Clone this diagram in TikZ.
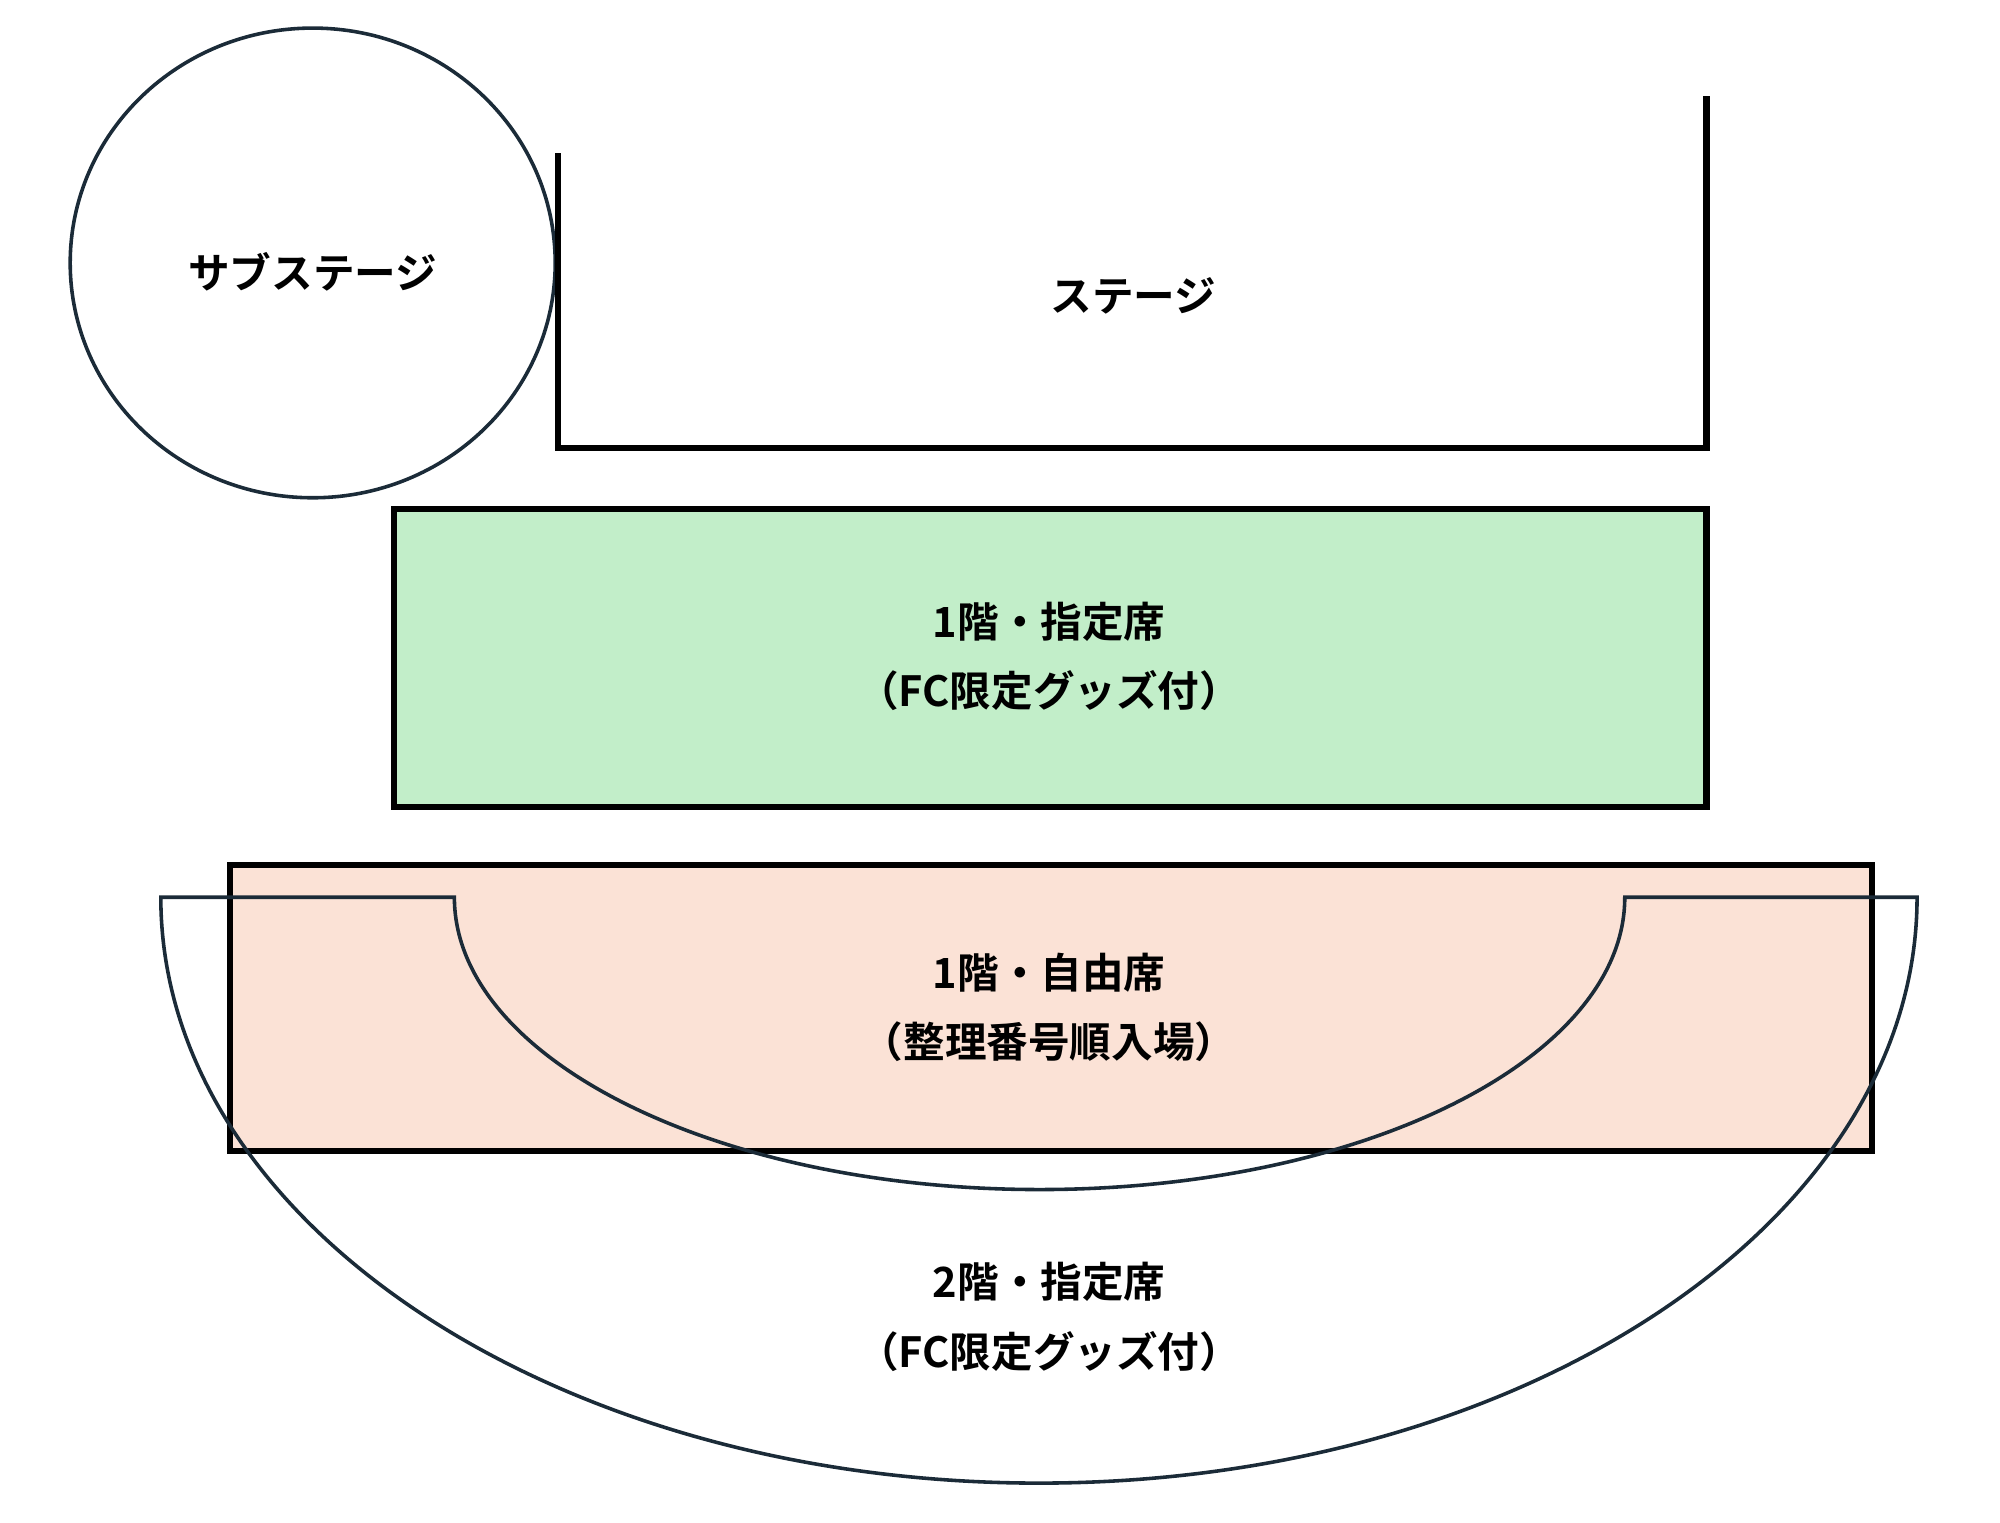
\documentclass[tikz,border=0pt]{standalone}
\usepackage{fontspec}
\newfontfamily\cjk{Noto Sans CJK JP Bold}
\definecolor{navy}{HTML}{1B2B38}
\definecolor{greenf}{HTML}{C2EEC9}
\definecolor{peach}{HTML}{FBE2D6}
\begin{document}
\begin{tikzpicture}[x=0.5pt,y=-0.5pt,
  lbl/.style={font=\cjk\fontsize{16.3}{19}\selectfont,inner sep=0pt},
  thinl/.style={draw=navy,line width=1.4pt},
  thick/.style={draw=black,line width=2.4pt}]
\useasboundingbox (0,0) rectangle (1567,1193);
\draw[thinl] (245,206) ellipse [x radius=190,y radius=184];
\node[lbl] (sub) at (245,213) {サブステージ};
\draw[thick] (437,120) -- (437,351) -- (1337,351) -- (1337,75);
\node[lbl] (stage) at (888,232) {ステージ};
\draw[thick,fill=greenf] (309,399) rectangle (1337,632);
\node[lbl] (a1) at (822,487) {1階・指定席};
\node[lbl] (a2) at (822,541) {（FC限定グッズ付）};
\draw[thick,fill=peach] (180,678) rectangle (1467,902);
\draw[thinl] (126,703) -- (356,703) arc[start angle=180,end angle=360,x radius=458.5,y radius=-229] -- (1502,703)
  arc[start angle=0,end angle=-180,x radius=688,y radius=-459] -- cycle;
\node[lbl] (b1) at (822,762) {1階・自由席};
\node[lbl] (b2) at (822,816) {（整理番号順入場）};
\node[lbl] (c1) at (822,1004) {2階・指定席};
\node[lbl] (c2) at (822,1059) {（FC限定グッズ付）};
\end{tikzpicture}
\end{document}
